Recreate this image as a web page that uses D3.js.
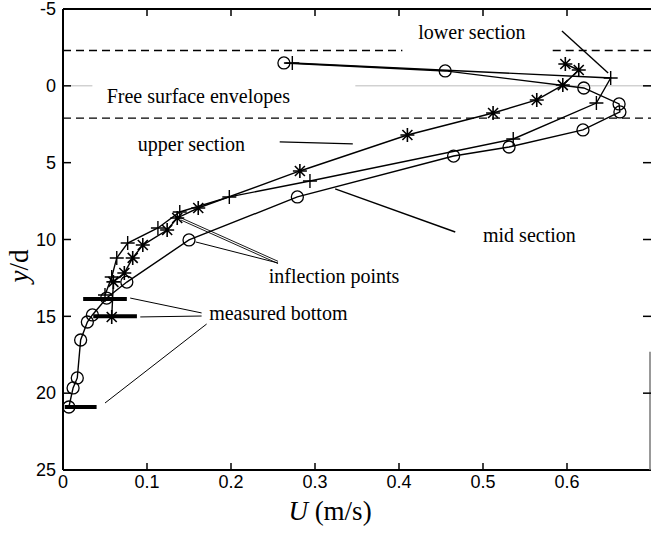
<!DOCTYPE html>
<html><head><meta charset="utf-8">
<script src="https://cdn.jsdelivr.net/npm/d3@7"></script>
<style>body{margin:0;background:#fff}svg{display:block}</style>
</head><body>
<svg id="c" width="652" height="536"></svg>
<script>
// Data (U in m/s, y/d)
const circleU = [0.263,0.455,0.620,0.662,0.663,0.619,0.531,0.465,0.279,0.150,0.076,0.052,0.035,0.029,0.021,0.017,0.012,0.007];
const circleV = [-1.49,-0.97,0.14,1.18,1.70,2.87,3.98,4.57,7.23,10.03,12.77,13.81,14.91,15.37,16.54,19.01,19.66,20.90];
const plusU = [0.273,0.652,0.635,0.536,0.294,0.198,0.139,0.113,0.077,0.064,0.058,0.050];
const plusV = [-1.49,-0.51,1.12,3.46,6.19,7.23,8.21,9.25,10.23,11.20,12.44,13.61];
const starU = [0.598,0.614,0.595,0.564,0.512,0.410,0.282,0.161,0.136,0.124,0.095,0.083,0.073,0.060,0.058];
const starV = [-1.42,-1.03,-0.05,0.92,1.77,3.20,5.54,7.95,8.60,9.38,10.36,11.20,12.18,12.76,15.04];
const bottomBars = [[0.024,0.076,13.87],[0.036,0.088,15.0],[0.002,0.040,20.9]];
const envelopes = [-2.3, 2.1];
const xTicks = [0,0.1,0.2,0.3,0.4,0.5,0.6];
const yTicks = [-5,0,5,10,15,20,25];

const svg = d3.select('#c');
const x = d3.scaleLinear().domain([0,0.7]).range([63,651]);
const y = d3.scaleLinear().domain([-5,25]).range([9,470]);

// free surface gray line at 0
svg.append('line').attr('x1',x(0.008)).attr('x2',x(0.035)).attr('y1',y(0)).attr('y2',y(0)).attr('stroke','#bbb').attr('stroke-width',1);
svg.append('line').attr('x1',x(0.348)).attr('x2',x(0.7)).attr('y1',y(0)).attr('y2',y(0)).attr('stroke','#bbb').attr('stroke-width',1);

// dashed envelopes
const dash = (x1,x2,v)=>svg.append('line').attr('x1',x(x1)).attr('x2',x(x2)).attr('y1',y(v)).attr('y2',y(v))
  .attr('stroke','#000').attr('stroke-width',1.3).attr('stroke-dasharray','8,5');
dash(0,0.404,envelopes[0]); dash(0.583,0.7,envelopes[0]); dash(0,0.7,envelopes[1]);

// series lines
const line = d3.line().x(d=>x(d[0])).y(d=>y(d[1]));
const zipS = (a,b)=>a.map((u,i)=>[u,b[i]]);
const circ = zipS(circleU,circleV), plus = zipS(plusU,plusV), star = zipS(starU,starV);
[circ,plus,star].forEach(s=>svg.append('path').attr('d',line(s)).attr('fill','none').attr('stroke','#000').attr('stroke-width',1.4));

// markers
svg.selectAll('.cm').data(circ).enter().append('circle').attr('cx',d=>x(d[0])).attr('cy',d=>y(d[1])).attr('r',6)
  .attr('fill','none').attr('stroke','#000').attr('stroke-width',1.3);
const pg = svg.append('g');
plus.forEach(d=>{const cx=x(d[0]),cy=y(d[1]);
  pg.append('path').attr('d',`M${cx-7},${cy}H${cx+7}M${cx},${cy-7}V${cy+7}`).attr('stroke','#000').attr('stroke-width',1.4);});
star.forEach(d=>{const cx=x(d[0]),cy=y(d[1]),r=7,q=5;
  pg.append('path').attr('d',`M${cx-r},${cy}H${cx+r}M${cx},${cy-r}V${cy+r}M${cx-q},${cy-q}L${cx+q},${cy+q}M${cx-q},${cy+q}L${cx+q},${cy-q}`)
  .attr('stroke','#000').attr('stroke-width',1.6);});

// measured bottom bars
bottomBars.forEach(b=>svg.append('line').attr('x1',x(b[0])).attr('x2',x(b[1])).attr('y1',y(b[2])).attr('y2',y(b[2])).attr('stroke','#000').attr('stroke-width',4));

// annotation leader lines (data coords)
const leaders = [
  [[0.594,-3.57],[0.649,-0.84]],
  [[0.258,3.65],[0.345,3.78]],
  [[0.324,6.71],[0.467,9.51]],
  [[0.256,11.53],[0.158,10.16]],
  [[0.165,14.78],[0.080,13.81]],
  [[0.165,14.98],[0.092,15.04]],
  [[0.171,15.50],[0.050,20.64]]
];
leaders.forEach((l,i)=>svg.append('path').attr('d',line(l)).attr('stroke','#000').attr('stroke-width',i===1||i===0||i===2?1.4:1).attr('fill','none'));
// double leader
[[0,0],[0,2.2]].forEach(o=>svg.append('line').attr('x1',x(0.256)).attr('y1',y(11.42)+o[1]).attr('x2',x(0.140)).attr('y2',y(8.58)+o[1])
  .attr('stroke','#000').attr('stroke-width',0.9));

// annotation texts
const notes = [
  ['lower section',0.423,-3.05],
  ['Free surface envelopes',0.052,1.12],
  ['upper section',0.089,4.24],
  ['mid section',0.5,10.16],
  ['inflection points',0.245,12.83],
  ['measured bottom',0.174,15.24]
];
svg.selectAll('.nt').data(notes).enter().append('text').attr('x',d=>x(d[1])).attr('y',d=>y(d[2]))
  .attr('font-family','Liberation Serif, Times New Roman, serif').attr('font-size',20).attr('fill','#000').text(d=>d[0]);

// axes frame
svg.append('line').attr('x1',x(0)).attr('x2',x(0.7)).attr('y1',y(-5)).attr('y2',y(-5)).attr('stroke','#000').attr('stroke-width',2);
svg.append('line').attr('x1',x(0)).attr('x2',x(0.7)).attr('y1',y(25)).attr('y2',y(25)).attr('stroke','#000').attr('stroke-width',2);
svg.append('line').attr('x1',x(0)).attr('x2',x(0)).attr('y1',y(-5)).attr('y2',y(25)).attr('stroke','#000').attr('stroke-width',2);
svg.append('line').attr('x1',x(0.7)-1).attr('x2',x(0.7)-1).attr('y1',y(17.3)).attr('y2',y(25)).attr('stroke','#777').attr('stroke-width',1.5);

// ticks
const tk = svg.append('g').attr('stroke','#000').attr('stroke-width',1.5);
xTicks.slice(1).forEach(t=>{
  tk.append('line').attr('x1',x(t)).attr('x2',x(t)).attr('y1',y(25)).attr('y2',y(25)-7);
  tk.append('line').attr('x1',x(t)).attr('x2',x(t)).attr('y1',y(-5)).attr('y2',y(-5)+7);
});
yTicks.slice(1,-1).forEach(t=>{
  tk.append('line').attr('x1',x(0)).attr('x2',x(0)+8).attr('y1',y(t)).attr('y2',y(t));
  tk.append('line').attr('x1',x(0.7)).attr('x2',x(0.7)-8).attr('y1',y(t)).attr('y2',y(t));
});

// tick labels
svg.selectAll('.xl').data(xTicks).enter().append('text').attr('x',d=>x(d)).attr('y',488)
  .attr('text-anchor','middle').attr('font-family','Liberation Sans, Arial, sans-serif').attr('font-size',18).text(d=>d===0?'0':d3.format('.1f')(d));
svg.selectAll('.yl').data(yTicks).enter().append('text').attr('x',56).attr('y',d=>y(d)).attr('dy','0.35em')
  .attr('text-anchor','end').attr('font-family','Liberation Sans, Arial, sans-serif').attr('font-size',18).text(d=>d);

// axis titles
const xt = svg.append('text').attr('x',330).attr('y',520).attr('text-anchor','middle')
  .attr('font-family','Liberation Serif, Times New Roman, serif').attr('font-size',27);
xt.append('tspan').attr('font-style','italic').text('U');
xt.append('tspan').text(' (m/s)');
const yt = svg.append('text').attr('transform','translate(28,266) rotate(-90)').attr('text-anchor','middle')
  .attr('font-family','Liberation Serif, Times New Roman, serif').attr('font-size',27);
yt.append('tspan').attr('font-style','italic').text('y');
yt.append('tspan').text('/d');
</script>
</body></html>
